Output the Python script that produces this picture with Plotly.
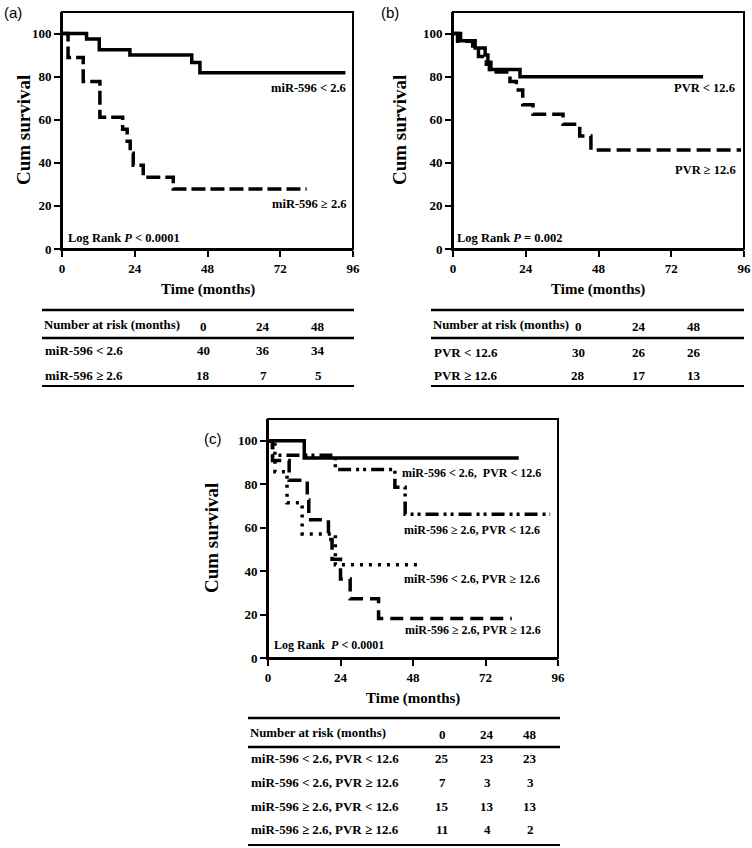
import plotly.graph_objects as go

W, H = 752, 848

# ---------------- data ----------------
xticks = [0, 24, 48, 72, 96]
yticks = [0, 20, 40, 60, 80, 100]

# Panel (a)
a_low_t = [0, 8.1, 12.3, 22.4, 42.8, 45.5, 93.5]
a_low_s = [100, 97.5, 92.5, 90.0, 86.6, 81.8, 81.8]
a_high_t = [0, 2.0, 7.0, 12.5, 20.0, 21.5, 22.5, 23.5, 26.8, 36.7, 80.7]
a_high_s = [100, 88.9, 77.8, 61.1, 55.6, 50.0, 44.4, 38.9, 33.3, 27.8, 27.8]

# Panel (b)
b_low_t = [0, 2.5, 7.3, 10.6, 11.5, 12.5, 22.1, 82.5]
b_low_s = [100, 96.7, 93.3, 90.0, 86.7, 83.3, 80.0, 80.0]
b_high_t = [0, 1.5, 6.5, 8.4, 11.0, 12.0, 18.8, 20.9, 23.0, 26.4, 36.3, 41.8, 45.5, 95.0]
b_high_s = [100, 96.4, 92.9, 89.3, 85.7, 82.1, 77.8, 73.8, 67.0, 62.5, 57.9, 52.4, 46.0, 46.0]

# Panel (c)
c_ll_t = [0, 12.0, 83.0]
c_ll_s = [100, 92.0, 92.0]
c_hl_t = [0, 1.5, 22.3, 42.0, 45.4, 93.4]
c_hl_s = [100, 93.3, 86.7, 78.6, 66.2, 66.2]
c_lh_t = [0, 2.3, 6.3, 11.3, 22.3, 49.8]
c_lh_s = [100, 85.7, 71.4, 57.1, 42.9, 42.9]
c_hh_t = [0, 1.5, 7.0, 13.0, 13.5, 20.0, 21.2, 24.0, 27.2, 36.6, 80.7]
c_hh_s = [100, 90.9, 81.8, 72.7, 63.6, 54.5, 45.5, 36.4, 27.3, 18.2, 18.2]

# Number-at-risk tables
risk_times = [0, 24, 48]
a_groups = ["miR-596 &lt; 2.6", "miR-596 ≥ 2.6"]
a_risk = [[40, 36, 34], [18, 7, 5]]
b_groups = ["PVR &lt; 12.6", "PVR ≥ 12.6"]
b_risk = [[30, 26, 26], [28, 17, 13]]
c_groups = ["miR-596 &lt; 2.6, PVR &lt; 12.6", "miR-596 &lt; 2.6, PVR ≥ 12.6",
            "miR-596 ≥ 2.6, PVR &lt; 12.6", "miR-596 ≥ 2.6, PVR ≥ 12.6"]
c_risk = [[25, 23, 23], [7, 3, 3], [15, 13, 13], [11, 4, 2]]

# ---------------- helpers ----------------
def px(x):
    return x / W

def py(y):
    return 1 - y / H

SERIF = "Liberation Serif"
SANS = "Liberation Sans"
LW = 3.5

fig = go.Figure()

def curve(t, s, dash, ax):
    xa, ya = ax
    fig.add_trace(go.Scatter(x=t, y=s, mode="lines", xaxis=xa, yaxis=ya,
                             line=dict(shape="hv", color="black", width=LW, dash=dash),
                             showlegend=False, hoverinfo="skip", cliponaxis=False))

curve(a_low_t, a_low_s, "solid", ("x", "y"))
curve(a_high_t, a_high_s, "14px,5px", ("x", "y"))
curve(b_low_t, b_low_s, "solid", ("x2", "y2"))
curve(b_high_t, b_high_s, "14px,6px", ("x2", "y2"))
curve(c_hh_t, c_hh_s, "13px,7px", ("x3", "y3"))
curve(c_lh_t, c_lh_s, "3px,6px", ("x3", "y3"))
curve(c_hl_t, c_hl_s, "13px,5px,3px,4px,3px,5px", ("x3", "y3"))
curve(c_ll_t, c_ll_s, "solid", ("x3", "y3"))

tickfont = dict(family=SERIF, size=13, color="black", weight="bold")

def xaxis(dom, anchor):
    return dict(domain=dom, range=[0, 96], tickvals=xticks, ticks="outside", ticklen=6,
                tickwidth=2, tickcolor="black", showline=True, linewidth=2, linecolor="black",
                showgrid=False, zeroline=False, tickfont=tickfont, anchor=anchor,
                fixedrange=True, automargin=False)

def yaxis(dom, anchor):
    return dict(domain=dom, range=[0, 110], tickvals=yticks, ticks="outside", ticklen=6,
                tickwidth=2, tickcolor="black", showline=True, linewidth=2, linecolor="black",
                showgrid=False, zeroline=False, tickfont=tickfont, anchor=anchor,
                fixedrange=True, automargin=False)

PANELS = {
    "a": ((62, 353), (12, 249)),
    "b": ((453, 744), (12, 249)),
    "c": ((268, 558), (419, 658)),
}

fig.update_layout(
    width=W, height=H, margin=dict(l=0, r=0, t=0, b=0, autoexpand=False),
    paper_bgcolor="white", plot_bgcolor="white", showlegend=False,
    xaxis=xaxis([px(62), px(353)], "y"),
    yaxis=yaxis([py(249), py(12)], "x"),
    xaxis2=xaxis([px(453), px(744)], "y2"),
    yaxis2=yaxis([py(249), py(12)], "x2"),
    xaxis3=xaxis([px(268), px(558)], "y3"),
    yaxis3=yaxis([py(658), py(419)], "x3"),
)

ann = []
shapes = []

# plot frames (paper-referenced so they are not clipped)
for (x0, x1), (y0, y1) in PANELS.values():
    shapes.append(dict(type="rect", xref="paper", yref="paper",
                       x0=px(x0), x1=px(x1), y0=py(y1), y1=py(y0),
                       line=dict(color="black", width=2),
                       fillcolor="rgba(0,0,0,0)", layer="above"))

def text(x, y, s, size=12.5, anchor="left", family=SERIF, bold=True, angle=0):
    ann.append(dict(x=px(x), y=py(y), xref="paper", yref="paper", text=s, showarrow=False,
                    xanchor=anchor, yanchor="middle", textangle=angle,
                    font=dict(family=family, size=size, color="black",
                              weight="bold" if bold else "normal")))

def hline(x0, x1, y, w=2):
    shapes.append(dict(type="line", xref="paper", yref="paper", x0=px(x0), x1=px(x1),
                       y0=py(y), y1=py(y), line=dict(color="black", width=w)))

# panel labels
text(2, 12, "(a)", size=15, family=SANS, bold=False)
text(379, 12, "(b)", size=15, family=SANS, bold=False)
text(202, 438, "(c)", size=15, family=SANS, bold=False)

# axis titles
for cx, cy in [(23, 130), (399, 130), (211, 538)]:
    text(cx, cy, "Cum survival", size=19, anchor="center", angle=-90)
for cx, cy in [(208, 289), (598, 289), (413, 698)]:
    text(cx, cy, "Time (months)", size=15, anchor="center")

# curve labels
text(348, 88, "miR-596 &lt; 2.6", anchor="right")
text(349, 204, "miR-596 ≥ 2.6", anchor="right")
text(66, 238, "Log Rank <i>P</i> &lt; 0.0001", anchor="left")
text(737, 88, "PVR &lt; 12.6", anchor="right")
text(738, 170, "PVR ≥ 12.6", anchor="right")
text(455, 238, "Log Rank <i>P</i> = 0.002", anchor="left")
text(400, 473, "miR-596 &lt; 2.6,  PVR &lt; 12.6", size=12)
text(402, 530, "miR-596 ≥ 2.6, PVR &lt; 12.6", size=12)
text(402, 579, "miR-596 &lt; 2.6, PVR ≥ 12.6", size=12)
text(403, 630, "miR-596 ≥ 2.6, PVR ≥ 12.6", size=12)
text(272, 645, "Log Rank  <i>P</i> &lt; 0.0001", size=12)

# tables
def table(x0, x1, cols, y_top, y_head, y_mid, rows_y, y_bot, groups, risk):
    hline(x0, x1, y_top, 2.5)
    hline(x0, x1, y_mid, 2.5)
    hline(x0, x1, y_bot, 2)
    text(x0, y_head, "Number at risk (months)", size=12.8)
    for cx, t in zip(cols, risk_times):
        text(cx, y_head + 1, str(t), anchor="center", size=13)
    for ry, g, vals in zip(rows_y, groups, risk):
        text(x0 + 1, ry, g, size=13)
        for cx, v in zip(cols, vals):
            text(cx, ry, str(v), anchor="center", size=13)

table(42, 354, [203, 263, 318], 310, 325, 338, [351, 375], 386, a_groups, a_risk)
table(431, 744, [578, 639, 694], 310, 325, 338, [352, 375], 386, b_groups, b_risk)
table(248, 560, [442, 487, 530], 718, 733, 747, [758, 782, 806, 829], 845, c_groups, c_risk)

fig.update_layout(annotations=ann, shapes=shapes)
fig.write_html("out.html", config={"displayModeBar": False},
               post_script="document.body.style.margin='0px';document.body.style.overflow='hidden';")
